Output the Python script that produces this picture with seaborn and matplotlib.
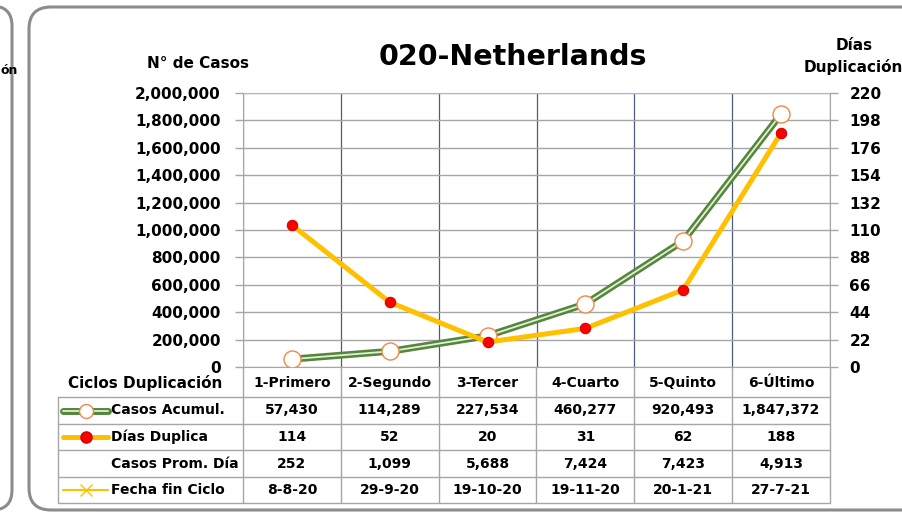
#!/usr/bin/env python3
"""
020-Netherlands - ciclos de duplicacion de casos (grafico con tabla de datos)
"""

import numpy as np
import pandas as pd
import matplotlib
matplotlib.use('Agg')
import matplotlib.pyplot as plt
import matplotlib.patheffects as pe
from matplotlib.patches import FancyBboxPatch
from matplotlib.lines import Line2D
import seaborn as sns

# datos
ciclos = ['1-Primero', '2-Segundo', '3-Tercer', '4-Cuarto', '5-Quinto', '6-Último']
casos_acumul = [57430, 114289, 227534, 460277, 920493, 1847372]
dias_duplica = [114, 52, 20, 31, 62, 188]
casos_prom_dia = [252, 1099, 5688, 7424, 7423, 4913]
fecha_fin = ['8-8-20', '29-9-20', '19-10-20', '19-11-20', '20-1-21', '27-7-21']

left_ticks = np.arange(0, 2000001, 200000)
right_ticks = np.arange(0, 221, 22)

W, H = 903, 514
GREEN = '#55873a'
YELLOW = '#ffc000'
GRID = '#a6a6a6'
FRAME = '#8c8c8c'

sns.set_style('white')
plt.rcParams['font.family'] = ['DejaVu Sans']
plt.rcParams['font.weight'] = 'bold'
plt.rcParams['text.color'] = 'black'
plt.rcParams['ytick.labelcolor'] = 'black'

fig = plt.figure(figsize=(W / 100, H / 100), dpi=100)

# capa de fondo en pixeles: marcos, textos y tabla
bg = fig.add_axes([0, 0, 1, 1])
bg.set_xlim(0, W)
bg.set_ylim(H, 0)
bg.axis('off')

bg.add_patch(FancyBboxPatch((-120, 6), 132, 504, boxstyle='round,pad=0,rounding_size=20',
                            fc='none', ec=FRAME, lw=2.2))
bg.add_patch(FancyBboxPatch((29, 7), 900, 503, boxstyle='round,pad=0,rounding_size=22',
                            fc='none', ec=FRAME, lw=2.2))
# resto del titulo del grafico vecino
bg.text(1, 70, 'ón', ha='left', va='center', fontsize=9)

bg.text(513, 57, '020-Netherlands', ha='center', va='center', fontsize=20.5)
bg.text(198, 64, 'N° de Casos', ha='center', va='center', fontsize=11)
bg.text(854, 46, 'Días', ha='center', va='center', fontsize=11)
bg.text(804, 67, 'Duplicación', ha='left', va='center', fontsize=11)

# area del grafico
x0, x1, y0, y1 = 243, 830, 93, 367
ax = fig.add_axes([x0 / W, 1 - y1 / H, (x1 - x0) / W, (y1 - y0) / H])

df = pd.DataFrame({'pos': np.arange(len(ciclos)), 'ciclo': ciclos,
                   'casos': casos_acumul, 'dias': dias_duplica})

sns.lineplot(data=df, x='pos', y='casos', ax=ax, color='#e4eedc', lw=1.3,
             path_effects=[pe.Stroke(linewidth=5, foreground=GREEN), pe.Normal()])
sns.scatterplot(data=df, x='pos', y='casos', ax=ax, s=150, color='white',
                edgecolor='#f0884a', linewidth=1, zorder=5)

ax.set_xlim(-0.5, len(ciclos) - 0.5)
ax.set_ylim(0, 2000000)
ax.set_yticks(left_ticks)
ax.set_yticklabels([f'{v:,}' for v in left_ticks], fontsize=11)
ax.set_xticks(np.arange(len(ciclos) + 1) - 0.5)
ax.set_xticklabels([])
ax.set_xlabel('')
ax.set_ylabel('')
ax.set_axisbelow(True)
ax.grid(axis='y', color=GRID, lw=1)
ax.grid(axis='x', color='#4e5d7c', lw=0.9)
ax.tick_params(axis='y', length=6, width=1, color=GRID, pad=10)
ax.tick_params(axis='x', length=0)
for s in ['left', 'bottom', 'right']:
    ax.spines[s].set_color(GRID)
ax.spines['top'].set_color('#9dbbdb')

ax2 = ax.twinx()
sns.lineplot(data=df, x='pos', y='dias', ax=ax2, color=YELLOW, lw=3.6,
             marker='o', markersize=7.5, markerfacecolor='#ff0000',
             markeredgecolor='#d00000')
ax2.set_ylim(0, 220)
ax2.set_yticks(right_ticks)
ax2.set_yticklabels([str(v) for v in right_ticks], fontsize=11)
ax2.set_ylabel('')
ax2.tick_params(axis='y', length=6, width=1, color=GRID, pad=8)
for s in ax2.spines.values():
    s.set_visible(False)

# tabla de datos debajo del grafico
col_w = (x1 - x0) / len(ciclos)
bounds = [x0 + i * col_w for i in range(len(ciclos) + 1)]
centers = [x0 + (i + 0.5) * col_w for i in range(len(ciclos))]
row_lines = [397, 424, 450, 477, 503]
row_mid = [(a + b) / 2 for a, b in zip(row_lines[:-1], row_lines[1:])]

for y in row_lines:
    bg.add_line(Line2D([58, x1], [y, y], color=GRID, lw=1))
bg.add_line(Line2D([58, 58], [row_lines[0], row_lines[-1]], color=GRID, lw=1))
for x in bounds:
    bg.add_line(Line2D([x, x], [y1, row_lines[-1]], color=GRID, lw=1))

bg.text(222, 383, 'Ciclos Duplicación', ha='right', va='center', fontsize=11)
for cx, c in zip(centers, ciclos):
    bg.text(cx, 383, c, ha='center', va='center', fontsize=10)

rows = [
    ('Casos Acumul.', [f'{v:,}' for v in casos_acumul]),
    ('Días Duplica', [str(v) for v in dias_duplica]),
    ('Casos Prom. Día', [f'{v:,}' for v in casos_prom_dia]),
    ('Fecha fin Ciclo', fecha_fin),
]
for (label, vals), ym in zip(rows, row_mid):
    bg.text(111, ym, label, ha='left', va='center', fontsize=10)
    for cx, v in zip(centers, vals):
        bg.text(cx, ym, v, ha='center', va='center', fontsize=10)

# claves de leyenda en la tabla
k0, k1, km = 63, 108, 86
bg.add_line(Line2D([k0, k1], [row_mid[0]] * 2, color='#e4eedc', lw=1.3,
                   path_effects=[pe.Stroke(linewidth=5, foreground=GREEN), pe.Normal()]))
bg.add_line(Line2D([km], [row_mid[0]], marker='o', ms=10, mfc='white', mec='#f0884a', mew=1))
bg.add_line(Line2D([k0, k1], [row_mid[1]] * 2, color=YELLOW, lw=3.6))
bg.add_line(Line2D([km], [row_mid[1]], marker='o', ms=8, mfc='#ff0000', mec='#d00000'))
bg.add_line(Line2D([k0, k1], [row_mid[3]] * 2, color=YELLOW, lw=1.5))
bg.add_line(Line2D([km], [row_mid[3]], marker='x', ms=8, mec=YELLOW, mew=1))

fig.savefig('out.png', dpi=100)
